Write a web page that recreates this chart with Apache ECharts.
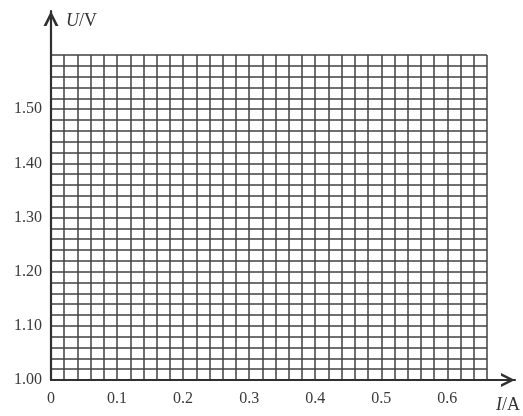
<!DOCTYPE html>
<html><head><meta charset="utf-8">
<script src="https://cdn.jsdelivr.net/npm/echarts@6/dist/echarts.min.js"></script>
<style>html,body{margin:0;padding:0;background:#fff}#c{width:523px;height:416px}</style>
</head><body><div id="c"></div>
<script>
// Axis ranges and grid spacing (grid paper: 0.02 per small cell)
const xRange = [0, 0.66];
const yRange = [1.00, 1.60];
const xCell = 0.02;
const yCell = 0.02;
// Tick labels
const xTickValues = [0, 0.1, 0.2, 0.3, 0.4, 0.5, 0.6];
const xTickLabels = ['0', '0.1', '0.2', '0.3', '0.4', '0.5', '0.6'];
const yTickValues = [1.00, 1.10, 1.20, 1.30, 1.40, 1.50];
const yTickLabels = ['1.00', '1.10', '1.20', '1.30', '1.40', '1.50'];
// Axis titles
const xName = {italic: 'I', rest: '/A'};
const yName = {italic: 'U', rest: '/V'};
// No measured data points are plotted on the blank grid
const points = [];

function lookup(values, labels) {
  return function (v) {
    for (let i = 0; i < values.length; i++) {
      if (Math.abs(v - values[i]) < 1e-6) return labels[i];
    }
    return '';
  };
}

const chevron = 'path://M0,100 L50,0 L100,100 L80,100 L50,38 L20,100 Z';
const serif = '"Liberation Serif", "DejaVu Serif", serif';
const gridLine = {color: '#404040', width: 1.5};
const axisCol = '#303030';

const chart = echarts.init(document.getElementById('c'));
chart.setOption({
  animation: false,
  backgroundColor: '#fff',
  grid: [
    {left: 51, right: 36, top: 55, bottom: 36},
    {left: 51, right: 8, top: 11, bottom: 36}
  ],
  xAxis: [
    {
      type: 'value', gridIndex: 0, min: xRange[0], max: xRange[1], interval: xCell,
      axisLine: {show: false}, axisTick: {show: false},
      splitLine: {show: true, lineStyle: gridLine},
      axisLabel: {
        show: true, margin: 11, color: '#3a3a3a', fontFamily: serif, fontSize: 16,
        formatter: lookup(xTickValues, xTickLabels), showMinLabel: true, showMaxLabel: false,
        hideOverlap: false
      }
    },
    {
      type: 'value', gridIndex: 1, min: 0, max: 1,
      axisLine: {show: true, onZero: false, symbol: ['none', chevron], symbolSize: [15, 14], symbolOffset: [0, -7],
        lineStyle: {color: axisCol, width: 2.2}},
      axisTick: {show: false}, axisLabel: {show: false}, splitLine: {show: false},
      name: '{i|' + xName.italic + '}{r|' + xName.rest + '}',
      nameLocation: 'end', nameGap: 5,
      nameTextStyle: {
        align: 'right', verticalAlign: 'top', padding: [16, 0, 0, 0],
        rich: {
          i: {fontFamily: serif, fontStyle: 'italic', fontSize: 18, color: '#333'},
          r: {fontFamily: serif, fontSize: 18, color: '#333'}
        }
      }
    }
  ],
  yAxis: [
    {
      type: 'value', gridIndex: 0, min: yRange[0], max: yRange[1], interval: yCell,
      axisLine: {show: false}, axisTick: {show: false},
      splitLine: {show: true, lineStyle: gridLine},
      axisLabel: {
        show: true, margin: 9, color: '#3a3a3a', fontFamily: serif, fontSize: 16,
        formatter: lookup(yTickValues, yTickLabels), showMinLabel: true, showMaxLabel: false,
        hideOverlap: false
      }
    },
    {
      type: 'value', gridIndex: 1, min: 0, max: 1,
      axisLine: {show: true, onZero: false, symbol: ['none', chevron], symbolSize: [16, 15], symbolOffset: [0, -7.5],
        lineStyle: {color: axisCol, width: 2.2}},
      axisTick: {show: false}, axisLabel: {show: false}, splitLine: {show: false},
      name: '{i|' + yName.italic + '}{r|' + yName.rest + '}',
      nameLocation: 'end', nameGap: -10,
      nameTextStyle: {
        align: 'left', verticalAlign: 'middle', padding: [0, 0, 0, 15],
        rich: {
          i: {fontFamily: serif, fontStyle: 'italic', fontSize: 18, color: '#333'},
          r: {fontFamily: serif, fontSize: 18, color: '#333'}
        }
      }
    }
  ],
  series: [{
    type: 'scatter', xAxisIndex: 0, yAxisIndex: 0, data: points, symbolSize: 6
  }]
});
</script>
</body></html>
